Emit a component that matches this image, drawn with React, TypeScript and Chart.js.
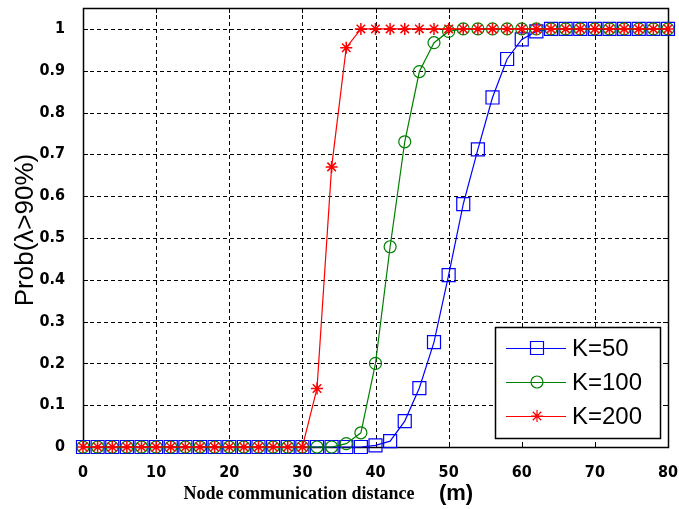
import React, { useEffect, useRef } from "react";
import { Chart, registerables } from "chart.js";

Chart.register(...registerables);

const distances = [0, 2, 4, 6, 8, 10, 12, 14, 16, 18, 20, 22, 24, 26, 28, 30, 32, 34, 36, 38, 40, 42, 44, 46, 48, 50, 52, 54, 56, 58, 60, 62, 64, 66, 68, 70, 72, 74, 76, 78, 80];
const k50 = [0, 0, 0, 0, 0, 0, 0, 0, 0, 0, 0, 0, 0, 0, 0, 0, 0, 0, 0, 0, 0.004, 0.014, 0.062, 0.141, 0.251, 0.411, 0.581, 0.712, 0.836, 0.928, 0.975, 0.994, 1, 1, 1, 1, 1, 1, 1, 1, 1];
const k100 = [0, 0, 0, 0, 0, 0, 0, 0, 0, 0, 0, 0, 0, 0, 0, 0, 0, 0, 0.008, 0.034, 0.2, 0.479, 0.73, 0.898, 0.967, 0.994, 1, 1, 1, 1, 1, 1, 1, 1, 1, 1, 1, 1, 1, 1, 1];
const k200 = [0, 0, 0, 0, 0, 0, 0, 0, 0, 0, 0, 0, 0, 0, 0, 0, 0.14, 0.67, 0.955, 1, 1, 1, 1, 1, 1, 1, 1, 1, 1, 1, 1, 1, 1, 1, 1, 1, 1, 1, 1, 1, 1];
const seriesNames = ["K=50", "K=100", "K=200"];
const xTicks = [0, 10, 20, 30, 40, 50, 60, 70, 80];
const yTicks = [0, 0.1, 0.2, 0.3, 0.4, 0.5, 0.6, 0.7, 0.8, 0.9, 1];
const yLabel = "Prob(\u03bb>90%)";
const xLabel = "Node communication distance";
const xUnit = "(m)";

const BLUE = "#0000ff";
const GREEN = "#008000";
const RED = "#ff0000";
const TICK_FAMILY = "'DejaVu Sans Condensed', 'Liberation Sans Narrow', 'Arial Narrow', 'Liberation Sans', sans-serif";

function drawMarker(ctx: CanvasRenderingContext2D, style: string, x: number, y: number, color: string) {
  ctx.save();
  ctx.strokeStyle = color;
  ctx.lineWidth = 1.2;
  ctx.setLineDash([]);
  ctx.beginPath();
  if (style === "rect") {
    ctx.rect(x - 6.5, y - 6.5, 13, 13);
  } else if (style === "circle") {
    ctx.arc(x, y, 6, 0, Math.PI * 2);
  } else {
    const r = 6;
    ctx.moveTo(x - r, y); ctx.lineTo(x + r, y);
    ctx.moveTo(x, y - r); ctx.lineTo(x, y + r);
    const d = r * Math.SQRT1_2;
    ctx.moveTo(x - d, y - d); ctx.lineTo(x + d, y + d);
    ctx.moveTo(x - d, y + d); ctx.lineTo(x + d, y - d);
  }
  ctx.stroke();
  ctx.restore();
}

const zeroPad = (s: any) => {
  s.paddingTop = 0;
  s.paddingBottom = 0;
  s.paddingLeft = 0;
  s.paddingRight = 0;
};

const framePlugin = {
  id: "frame",
  beforeDatasetsDraw(chart: any) {
    const { ctx, chartArea: a, scales } = chart;
    const xs = scales.x, ys = scales.y;
    ctx.save();
    ctx.strokeStyle = "#000";
    ctx.lineWidth = 1;
    ctx.setLineDash([4, 3]);
    ctx.beginPath();
    xTicks.forEach((t) => {
      const px = Math.round(xs.getPixelForValue(t)) + 0.5;
      if (px > a.left + 1 && px < a.right - 1) {
        ctx.moveTo(px, a.top); ctx.lineTo(px, a.bottom);
      }
    });
    yTicks.forEach((t) => {
      const py = Math.round(ys.getPixelForValue(t)) + 0.5;
      if (py > a.top + 1 && py < a.bottom - 1) {
        ctx.moveTo(a.left, py); ctx.lineTo(a.right, py);
      }
    });
    ctx.stroke();
    ctx.setLineDash([]);
    ctx.beginPath();
    xTicks.forEach((t) => {
      const px = Math.round(xs.getPixelForValue(t)) + 0.5;
      ctx.moveTo(px, a.bottom); ctx.lineTo(px, a.bottom - 5);
      ctx.moveTo(px, a.top); ctx.lineTo(px, a.top + 5);
    });
    yTicks.forEach((t) => {
      const py = Math.round(ys.getPixelForValue(t)) + 0.5;
      ctx.moveTo(a.left, py); ctx.lineTo(a.left + 5, py);
      ctx.moveTo(a.right, py); ctx.lineTo(a.right - 5, py);
    });
    ctx.stroke();
    ctx.lineWidth = 1.5;
    ctx.strokeRect(Math.round(a.left) + 0.5, Math.round(a.top) + 0.5, Math.round(a.right - a.left), Math.round(a.bottom - a.top));
    ctx.restore();
  },
  afterDraw(chart: any) {
    const { ctx } = chart;
    ctx.save();
    // legend
    const lx = 495, ly = 327, lw = 165, lh = 111;
    ctx.fillStyle = "#fff";
    ctx.fillRect(lx, ly, lw, lh);
    ctx.strokeStyle = "#000";
    ctx.lineWidth = 1.5;
    ctx.strokeRect(lx + 0.5, ly + 0.5, lw, lh);
    const colors = [BLUE, GREEN, RED];
    const styles = ["rect", "circle", "star"];
    const rows = [348, 382, 416];
    ctx.font = "24px 'Liberation Sans', Arial, sans-serif";
    ctx.textBaseline = "middle";
    ctx.textAlign = "left";
    seriesNames.forEach((n, i) => {
      ctx.strokeStyle = colors[i];
      ctx.lineWidth = 1.2;
      ctx.beginPath();
      ctx.moveTo(506, rows[i] + 0.5);
      ctx.lineTo(566, rows[i] + 0.5);
      ctx.stroke();
      drawMarker(ctx, styles[i], 537, rows[i], colors[i]);
      ctx.fillStyle = "#000";
      ctx.fillText(n, 572, rows[i] + 1);
    });
    // y title
    ctx.save();
    ctx.translate(26, 230);
    ctx.rotate(-Math.PI / 2);
    ctx.textAlign = "center";
    ctx.textBaseline = "middle";
    ctx.fillStyle = "#000";
    ctx.font = "26px 'Liberation Sans', Arial, sans-serif";
    ctx.fillText(yLabel, 0, 0);
    ctx.restore();
    // x title
    ctx.fillStyle = "#000";
    ctx.textBaseline = "middle";
    ctx.textAlign = "center";
    ctx.font = "bold 18px 'Liberation Serif', 'Times New Roman', serif";
    ctx.fillText(xLabel, 299, 494);
    ctx.font = "bold 22px 'Liberation Sans', Arial, sans-serif";
    ctx.fillText(xUnit, 456, 494);
    ctx.restore();
  },
};

export default function App() {
  const ref = useRef<HTMLCanvasElement>(null);
  useEffect(() => {
    document.body.style.margin = "0";
    const mk = (vals: number[]) => distances.map((d, i) => ({ x: d, y: vals[i] }));
    const chart = new Chart(ref.current!, {
      type: "line",
      data: {
        datasets: [
          { label: seriesNames[0], data: mk(k50), borderColor: BLUE, backgroundColor: "transparent", borderWidth: 1.2, pointStyle: "rect", pointRadius: 9.2, pointBorderWidth: 1.2, pointBorderColor: BLUE, pointBackgroundColor: "transparent", order: 2, clip: false as any, tension: 0 },
          { label: seriesNames[1], data: mk(k100), borderColor: GREEN, backgroundColor: "transparent", borderWidth: 1.2, pointStyle: "circle", pointRadius: 6, pointBorderWidth: 1.2, pointBorderColor: GREEN, pointBackgroundColor: "transparent", order: 1, clip: false as any, tension: 0 },
          { label: seriesNames[2], data: mk(k200), borderColor: RED, backgroundColor: "transparent", borderWidth: 1.2, pointStyle: "star", pointRadius: 6, pointBorderWidth: 1.5, pointBorderColor: RED, pointBackgroundColor: RED, order: 0, clip: false as any, tension: 0 },
        ],
      },
      options: {
        responsive: false,
        animation: false,
        layout: { autoPadding: false, padding: { top: 8, right: 11, left: 0, bottom: 0 } } as any,
        plugins: { legend: { display: false }, tooltip: { enabled: false } },
        scales: {
          x: {
            type: "linear",
            min: 0,
            max: 80,
            grid: { display: false },
            border: { display: false },
            afterBuildTicks: (s: any) => { s.ticks = xTicks.map((v) => ({ value: v })); },
            afterFit: (s: any) => { s.height = 62; zeroPad(s); },
            ticks: { color: "#000", font: { family: TICK_FAMILY, size: 16, weight: "bold" }, padding: 8, maxRotation: 0, autoSkip: false },
          },
          y: {
            type: "linear",
            min: 0,
            max: 1.05,
            grid: { display: false },
            border: { display: false },
            afterBuildTicks: (s: any) => { s.ticks = yTicks.map((v) => ({ value: v })); },
            afterFit: (s: any) => { s.width = 83; zeroPad(s); },
            ticks: { color: "#000", font: { family: TICK_FAMILY, size: 16, weight: "bold" }, padding: 10, autoSkip: false, callback: (v: any) => String(v) },
          },
        },
      },
      plugins: [framePlugin],
    });
    return () => chart.destroy();
  }, []);
  return (
    <div style={{ width: 679, height: 509, background: "#fff" }}>
      <canvas ref={ref} width={679} height={509} />
    </div>
  );
}
